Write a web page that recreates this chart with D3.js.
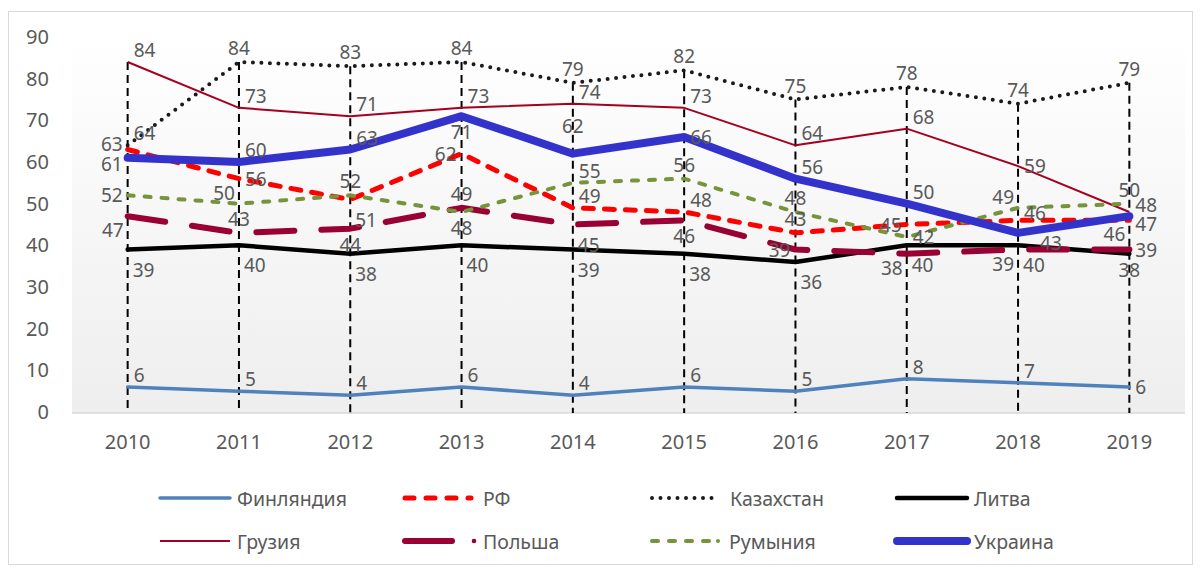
<!DOCTYPE html>
<html>
<head>
<meta charset="utf-8">
<script src="https://cdn.jsdelivr.net/npm/d3@7"></script>
<style>
  body { margin: 0; background: #fff; }
  text { font-family: "Noto Sans", "Open Sans", sans-serif; fill: #595959; }
</style>
</head>
<body>
<svg id="chart" width="1202" height="569"></svg>
<script>
// data
const years = ['2010', '2011', '2012', '2013', '2014', '2015', '2016', '2017', '2018', '2019'];
const yTicks = [0, 10, 20, 30, 40, 50, 60, 70, 80, 90];

const finland    = [6, 5, 4, 6, 4, 6, 5, 8, 7, 6];
const russia     = [63, 56, 51, 62, 49, 48, 43, 45, 46, 46];
const kazakhstan = [64, 84, 83, 84, 79, 82, 75, 78, 74, 79];
const lithuania  = [39, 40, 38, 40, 39, 38, 36, 40, 40, 38];
const georgia    = [84, 73, 71, 73, 74, 73, 64, 68, 59, 48];
const poland     = [47, 43, 44, 49, 45, 46, 39, 38, 39, 39];
const romania    = [52, 50, 52, 48, 55, 56, 48, 42, 49, 50];
const ukraine    = [61, 60, 63, 71, 62, 66, 56, 50, 43, 47];

const names = ['Финляндия', 'РФ', 'Казахстан', 'Литва', 'Грузия', 'Польша', 'Румыния', 'Украина'];

// styles (kept apart from the values)
const styles = [
  { color: '#4f81bd', width: 3.5, dash: null, cap: 'round' },
  { color: '#ff0000', width: 5, dash: '10,11', cap: 'round' },
  { color: '#1a1a1a', width: 4, dash: '0,8.5', cap: 'round' },
  { color: '#000000', width: 4.5, dash: null, cap: 'round' },
  { color: '#a50021', width: 2, dash: null, cap: 'butt' },
  { color: '#990033', width: 6, dash: '38,27', cap: 'round' },
  { color: '#77933c', width: 4, dash: '6,11', cap: 'round' },
  { color: '#3333cc', width: 8, dash: null, cap: 'round' }
];

// where each data label sits relative to its point
const labelPos = [
  ['tr','tr','tr','tr','tr','tr','tr','tr','tr','r'],
  ['lt','r','br','l','tr','tr','t','l','rt','bl'],
  ['tr','t','t','t','t','t','t','t','t','t'],
  ['br','br','br','br','br','br','br','br','br','b'],
  ['tr','tr','tr','tr','tr','tr','tr','tr','r','rt'],
  ['bl','t','b','t','br','b','l','bl','bl','r'],
  ['l','tl','t','b','tr','t','t','r','tl','t'],
  ['lb','tr','tr','b','tt','r','tr','tr','rf','rb']
];

const allSeries = [finland, russia, kazakhstan, lithuania, georgia, poland, romania, ukraine];

const svg = d3.select('#chart');

// chart border
svg.append('rect')
  .attr('x', 8.5).attr('y', 11.5)
  .attr('width', 1184).attr('height', 553)
  .attr('fill', '#fff')
  .attr('stroke', '#d9d9d9');

const plotLeft = 72, plotRight = 1185, plotTop = 37, plotBottom = 412;

const x = d3.scaleBand().domain(years).range([plotLeft, plotRight]).padding(0);
const y = d3.scaleLinear().domain([0, 90]).range([plotBottom, plotTop]);
const cx = d => x(d) + x.bandwidth() / 2;

// plot background gradient
const defs = svg.append('defs');
const grad = defs.append('linearGradient')
  .attr('id', 'bg').attr('x1', 0).attr('y1', 0).attr('x2', 0).attr('y2', 1);
grad.append('stop').attr('offset', '0%').attr('stop-color', '#ffffff');
grad.append('stop').attr('offset', '100%').attr('stop-color', '#eeeeee');

svg.append('rect')
  .attr('x', plotLeft).attr('y', plotTop - 5)
  .attr('width', plotRight - plotLeft).attr('height', plotBottom - plotTop + 6)
  .attr('fill', 'url(#bg)');

// axes
const yAxis = svg.append('g')
  .attr('transform', `translate(${plotLeft},0)`)
  .call(d3.axisLeft(y).tickValues(yTicks).tickSize(0).tickPadding(23));
yAxis.select('.domain').remove();
yAxis.selectAll('text').style('font-size', '20px').attr('fill', '#595959');

const xAxis = svg.append('g')
  .attr('transform', `translate(0,${plotBottom + 1})`)
  .call(d3.axisBottom(x).tickSize(0).tickPadding(22));
xAxis.select('.domain').remove();
xAxis.selectAll('text').style('font-size', '20px').attr('fill', '#595959');

svg.append('line')
  .attr('x1', plotLeft).attr('x2', plotRight)
  .attr('y1', plotBottom + 1).attr('y2', plotBottom + 1)
  .attr('stroke', '#d9d9d9').attr('stroke-width', 1.5);

// drop lines from the highest value of each year
svg.append('g').selectAll('line')
  .data(years)
  .join('line')
  .attr('x1', d => cx(d)).attr('x2', d => cx(d))
  .attr('y1', (d, i) => y(d3.max(allSeries, s => s[i])))
  .attr('y2', plotBottom + 1)
  .attr('stroke', '#000')
  .attr('stroke-width', 2)
  .attr('stroke-dasharray', '8,5');

// series lines
const line = d3.line().x((d, i) => cx(years[i])).y(d => y(d));

allSeries.forEach((s, k) => {
  const st = styles[k];
  svg.append('path')
    .datum(s)
    .attr('d', line)
    .attr('fill', 'none')
    .attr('stroke', st.color)
    .attr('stroke-width', st.width)
    .attr('stroke-linecap', st.cap)
    .attr('stroke-linejoin', 'round')
    .attr('stroke-dasharray', st.dash);
});

// data labels
const offsets = {
  t:  [0, -14, 'middle'],
  tt: [0, -28, 'middle'],
  b:  [0, 16, 'middle'],
  l:  [-5, 0, 'end'],
  lt: [-5, -6, 'end'],
  lb: [-5, 6, 'end'],
  r:  [6, 0, 'start'],
  rt: [6, -7, 'start'],
  rb: [6, 8, 'start'],
  rf: [22, 10, 'start'],
  tr: [6, -12, 'start'],
  br: [5, 20, 'start'],
  tl: [-4, -11, 'end'],
  bl: [-4, 14, 'end']
};

allSeries.forEach((s, k) => {
  svg.append('g').selectAll('text')
    .data(s)
    .join('text')
    .attr('x', (d, i) => cx(years[i]) + offsets[labelPos[k][i]][0])
    .attr('y', (d, i) => y(d) + offsets[labelPos[k][i]][1])
    .attr('text-anchor', (d, i) => offsets[labelPos[k][i]][2])
    .attr('dominant-baseline', 'central')
    .style('font-size', '19px')
    .text(d => d);
});

// legend
const legend = svg.append('g');
const colX = [160, 405, 652, 897];
const rowY = [498, 541];

names.forEach((name, k) => {
  const st = styles[k];
  const lx = colX[k % 4];
  const ly = rowY[Math.floor(k / 4)];
  const g = legend.append('g');
  let x2 = lx + 70;
  let tx = lx + 77;
  if (k === 1) { tx = lx + 78; x2 = lx + 66; }
  if (k === 2) { tx = lx + 78; x2 = lx + 66; }
  if (k === 5) { x2 = lx + 47; tx = lx + 78; }
  if (k === 6) { x2 = lx + 60; tx = lx + 77; }
  g.append('line')
    .attr('x1', lx).attr('x2', x2)
    .attr('y1', ly).attr('y2', ly)
    .attr('stroke', st.color)
    .attr('stroke-width', k === 5 ? 6 : st.width)
    .attr('stroke-linecap', st.cap)
    .attr('stroke-dasharray', k === 5 ? null : (k === 1 ? '9,12' : st.dash));
  if (k === 5 || k === 6) {
    g.append('circle')
      .attr('cx', k === 5 ? lx + 69 : lx + 66).attr('cy', ly)
      .attr('r', k === 5 ? 2.3 : 2)
      .attr('fill', st.color);
  }
  g.append('text')
    .attr('x', tx).attr('y', ly)
    .attr('dominant-baseline', 'central')
    .style('font-size', '19.5px')
    .text(name);
});
</script>
</body>
</html>
